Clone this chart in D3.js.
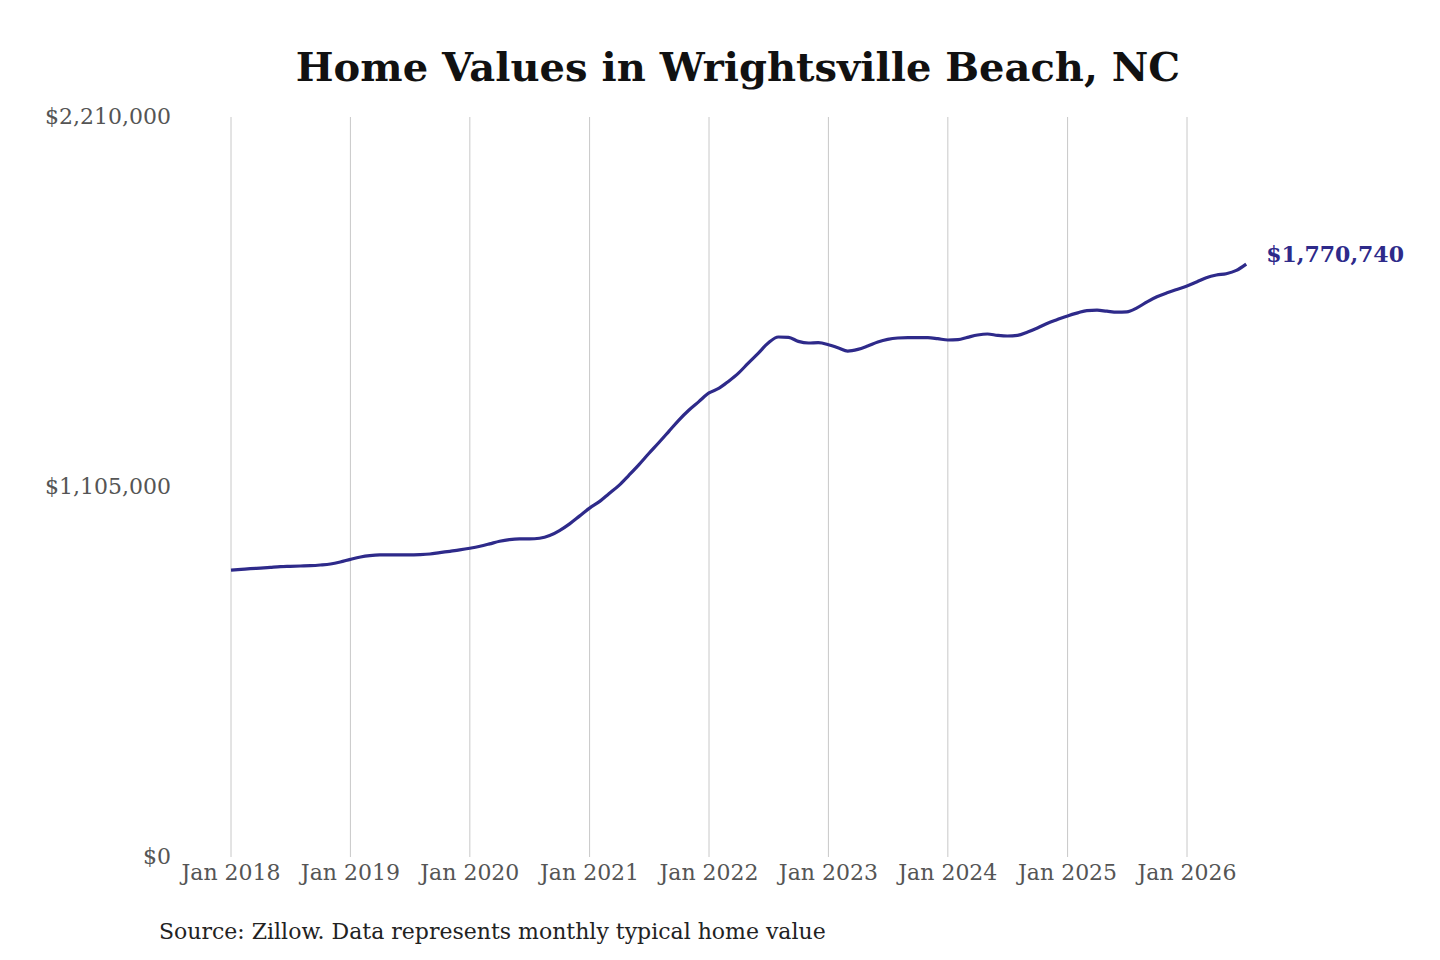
<!DOCTYPE html>
<html>
<head>
<meta charset="utf-8">
<script src="https://cdn.jsdelivr.net/npm/d3@7"></script>
<style>
  body { margin: 0; background: #fff; }
  text { font-family: "DejaVu Serif", serif; }
</style>
</head>
<body>
<svg id="chart" width="1440" height="960"></svg>
<script>
// monthly typical home value, Jan 2018 .. Jul 2026
const startMonth = new Date(2018, 0, 1);
const homeValues = [
  857000, 859000, 861000, 863000, 865000, 867000, 868000, 869000, 870000, 872000, 875000, 881000,
  889000, 896000, 900000, 902000, 902000, 902000, 902000, 903000, 905000, 909000, 913000, 917000,
  922000, 928000, 935000, 943000, 948000, 950000, 950000, 952000, 960000, 975000, 995000, 1018000,
  1042000, 1062000, 1085000, 1110000, 1140000, 1172000, 1205000, 1238000, 1272000, 1305000, 1335000, 1360000,
  1386000, 1400000, 1420000, 1445000, 1475000, 1505000, 1535000, 1553000, 1552000, 1540000, 1535000, 1536000,
  1530000, 1520000, 1511000, 1516000, 1526000, 1538000, 1546000, 1550000, 1551000, 1551000, 1551000, 1548000,
  1544000, 1545000, 1552000, 1559000, 1562000, 1558000, 1556000, 1558000, 1568000, 1580000, 1594000, 1605000,
  1616000, 1625000, 1632000, 1633000, 1630000, 1627000, 1628000, 1640000, 1658000, 1673000, 1685000, 1695000,
  1705000, 1718000, 1730000, 1738000, 1742000, 1752000, 1770740
];
const yTicks = [0, 1105000, 2210000];
const xTickYears = [2018, 2019, 2020, 2021, 2022, 2023, 2024, 2025, 2026];

const data = homeValues.map((v, i) => ({
  date: new Date(startMonth.getFullYear(), startMonth.getMonth() + i, 1),
  value: v
}));

const svg = d3.select("#chart");
const x = d3.scaleTime()
  .domain([new Date(2018, 0, 1), new Date(2026, 0, 1)])
  .range([231, 1187]);
const y = d3.scaleLinear().domain([0, 2210000]).range([857, 117]);

svg.append("text")
  .attr("x", 738).attr("y", 81)
  .attr("text-anchor", "middle")
  .attr("font-size", 40).attr("font-weight", "bold")
  .attr("fill", "#111")
  .text("Home Values in Wrightsville Beach, NC");

// vertical grid
svg.append("g").selectAll("line")
  .data(xTickYears)
  .join("line")
  .attr("x1", d => x(new Date(d, 0, 1))).attr("x2", d => x(new Date(d, 0, 1)))
  .attr("y1", 117).attr("y2", 857)
  .attr("stroke", "#c8c8c8").attr("stroke-width", 1);

svg.append("g").selectAll("text")
  .data(xTickYears)
  .join("text")
  .attr("x", d => x(new Date(d, 0, 1))).attr("y", 880)
  .attr("text-anchor", "middle")
  .attr("font-size", 22).attr("fill", "#555")
  .text(d => "Jan " + d);

svg.append("g").selectAll("text")
  .data(yTicks)
  .join("text")
  .attr("x", 171).attr("y", d => y(d) + 7)
  .attr("text-anchor", "end")
  .attr("font-size", 22).attr("fill", "#555")
  .text(d => "$" + d3.format(",")(d));

const line = d3.line()
  .x(d => x(d.date)).y(d => y(d.value))
  .curve(d3.curveMonotoneX);

svg.append("path")
  .datum(data)
  .attr("d", line)
  .attr("fill", "none")
  .attr("stroke", "#2e2a8a")
  .attr("stroke-width", 3.2);

const last = data[data.length - 1];
svg.append("text")
  .attr("x", x(last.date) + 20).attr("y", y(last.value) - 2)
  .attr("font-size", 22).attr("font-weight", "bold")
  .attr("fill", "#2e2a8a")
  .text("$" + d3.format(",")(last.value));

svg.append("text")
  .attr("x", 159).attr("y", 939)
  .attr("font-size", 22).attr("fill", "#222")
  .text("Source: Zillow. Data represents monthly typical home value");
</script>
</body>
</html>
